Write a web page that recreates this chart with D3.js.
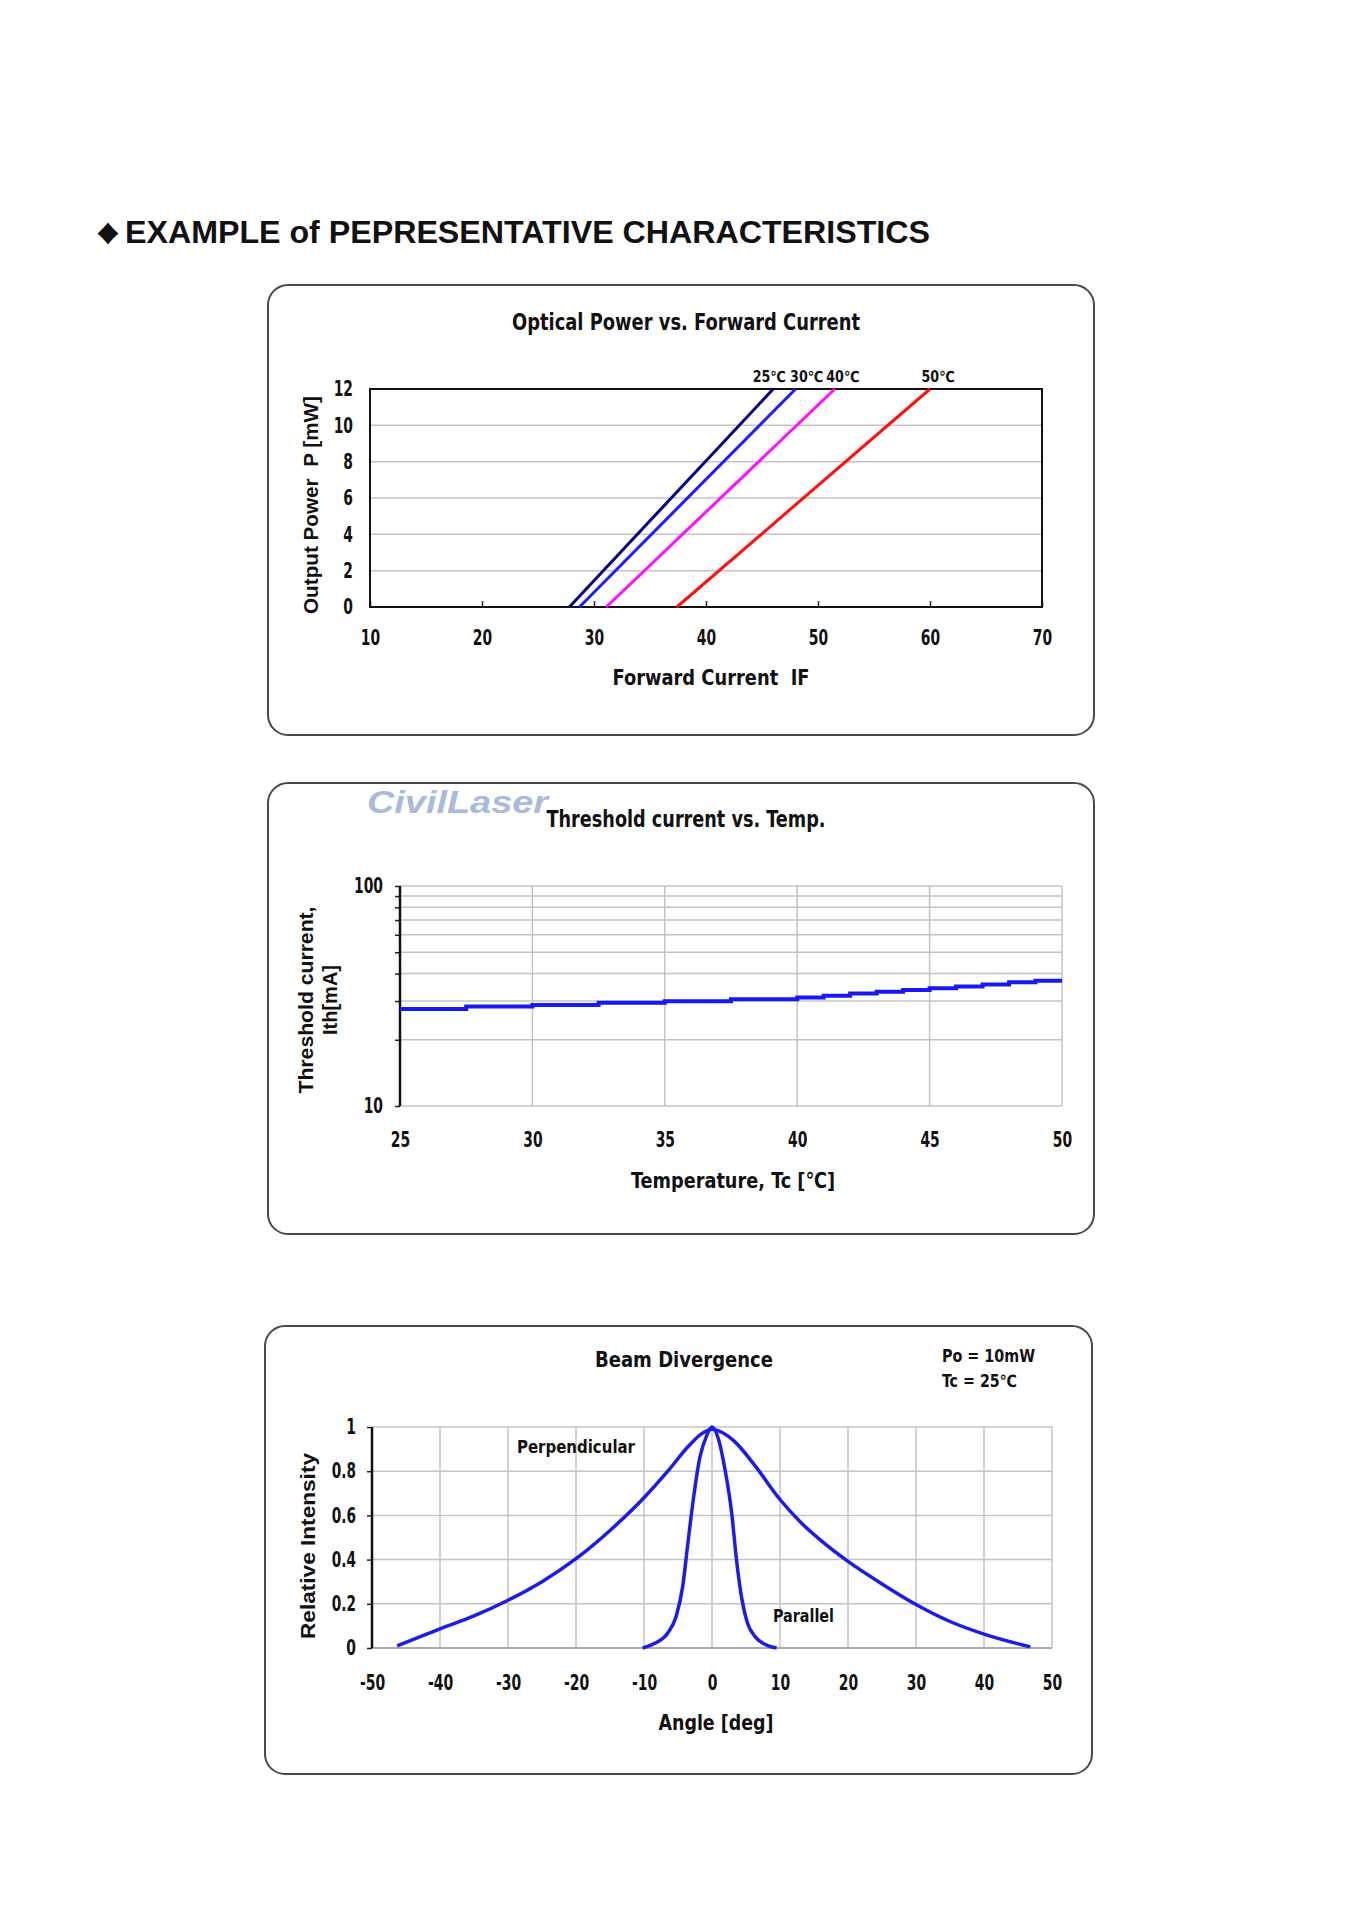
<!DOCTYPE html>
<html>
<head>
<meta charset="utf-8">
<script src="https://cdn.jsdelivr.net/npm/d3@7"></script>
<style>
  body { margin: 0; background: #fff; }
  .narrow { font-family: "Liberation Sans Narrow", "Arial Narrow", "DejaVu Sans Condensed", sans-serif; font-weight: bold; fill: #111; white-space: pre; }
  .wide { font-family: "Liberation Sans", Arial, sans-serif; font-weight: bold; fill: #111; white-space: pre; }
</style>
</head>
<body>
<svg id="page" width="1356" height="1920"></svg>
<script>
// ---- chart 1: optical power vs forward current
var currentTicks = [10, 20, 30, 40, 50, 60, 70];
var powerTicks = [0, 2, 4, 6, 8, 10, 12];
var tempNames = ["25℃", "30℃", "40℃", "50℃"];
var currentAt0mW = [27.8, 28.7, 31.1, 37.4];
var currentAt12mW = [46.0, 48.0, 51.5, 60.0];
var tempColors = ["#000080", "#1c1cff", "#ff10ff", "#ff1010"];
var tempLabelNudge = [-4, 11, 8, 8];

// ---- chart 2: threshold current vs temperature
var tempTicks = [25, 30, 35, 40, 45, 50];
var ithGrid = [10, 20, 30, 40, 50, 60, 70, 80, 90, 100];
var ithLabels = [10, 100];
var caseTemp = [25, 27.5, 30, 32.5, 35, 37.5, 40, 41, 42, 43, 44, 45, 46, 47, 48, 49, 50];
var ithValue = [27.6, 28.3, 28.8, 29.5, 29.9, 30.6, 31.1, 31.7, 32.5, 33.1, 33.7, 34.3, 34.9, 35.7, 36.5, 37.1, 37.1];

// ---- chart 3: beam divergence
var angleTicks = [-50, -40, -30, -20, -10, 0, 10, 20, 30, 40, 50];
var intensityTicks = [0, 0.2, 0.4, 0.6, 0.8, 1];
var perpAngle = [-46.3, -40, -35, -30, -25, -20, -15, -10, -6.5, -3.4, -1.5, 0, 1.5, 3.3, 6.2, 10, 13, 16, 20, 25, 30, 35, 40, 46.8];
var perpValue = [0.01, 0.087, 0.145, 0.216, 0.30, 0.404, 0.532, 0.68, 0.80, 0.915, 0.97, 0.99, 0.975, 0.935, 0.83, 0.672, 0.57, 0.487, 0.392, 0.29, 0.197, 0.12, 0.063, 0.005];
var parAngle = [-10.2, -8.5, -6.5, -5.3, -4.3, -3.6, -2.8, -1.8, -0.8, 0, 0.9, 1.9, 2.9, 3.6, 4.4, 5.2, 6.3, 8.3, 9.5];
var parValue = [0, 0.02, 0.068, 0.14, 0.28, 0.46, 0.66, 0.86, 0.96, 1.0, 0.95, 0.81, 0.61, 0.40, 0.22, 0.114, 0.053, 0.01, 0];

var gridColor = "#c4c4c4";
var svg = d3.select("#page");

// width of a string in a narrow face, so the fallback font is squeezed to fit
function narrowWidth(s, size) {
  var w = 0;
  for (var c of s) w += (c == "." ? 0.23 : c == "-" ? 0.28 : c == "℃" ? 0.8 : 0.46);
  return w * size;
}
function squeeze(sel, size) {
  sel.each(function() {
    d3.select(this)
        .attr("textLength", narrowWidth(this.textContent, size))
        .attr("lengthAdjust", "spacingAndGlyphs");
  });
}

// page heading
svg.append("text").attr("class", "wide")
    .attr("x", 96).attr("y", 244)
    .attr("font-size", 36)
    .attr("textLength", 24).attr("lengthAdjust", "spacingAndGlyphs")
    .text("♦");
svg.append("text").attr("class", "wide")
    .attr("x", 125).attr("y", 243)
    .attr("font-size", 31)
    .attr("textLength", 805).attr("lengthAdjust", "spacingAndGlyphs")
    .text("EXAMPLE of PEPRESENTATIVE CHARACTERISTICS");

function drawBox(x, y, w, h) {
  svg.append("rect")
      .attr("x", x).attr("y", y).attr("width", w).attr("height", h)
      .attr("rx", 20).attr("ry", 20)
      .attr("fill", "none").attr("stroke", "#4a4a4a").attr("stroke-width", 2);
}

function label(cls, x, y, size, txt, len, rotate) {
  var t = svg.append("text").attr("class", cls)
      .attr("font-size", size)
      .attr("text-anchor", "middle")
      .text(txt);
  if (rotate) t.attr("transform", "translate(" + x + "," + y + ") rotate(-90)");
  else t.attr("x", x).attr("y", y);
  if (len) t.attr("textLength", len).attr("lengthAdjust", "spacingAndGlyphs");
  return t;
}

function styleAxis(g, size) {
  g.attr("font-family", null).attr("font-size", null);
  var t = g.selectAll("text").attr("class", "narrow").attr("font-size", size).attr("fill", "#111");
  squeeze(t, size);
  g.selectAll(".domain").remove();
}

// ================= chart 1 =================
drawBox(268, 285, 826, 450);
label("narrow", 686, 330, 23, "Optical Power vs. Forward Current", 348);

var x1 = d3.scaleLinear().domain([10, 70]).range([370, 1042]);
var y1 = d3.scaleLinear().domain([0, 12]).range([607, 389]);

svg.append("g").selectAll("line")
    .data(powerTicks.slice(1, -1)).enter().append("line")
    .attr("x1", x1(10)).attr("x2", x1(70))
    .attr("y1", function(d) { return y1(d); }).attr("y2", function(d) { return y1(d); })
    .attr("stroke", gridColor).attr("stroke-width", 1.5);

var ax1 = svg.append("g").attr("transform", "translate(0," + y1(0) + ")")
    .call(d3.axisBottom(x1).tickValues(currentTicks).tickSize(-6).tickPadding(23));
styleAxis(ax1, 21);
ax1.selectAll("line").attr("stroke", "#222").attr("stroke-width", 1.5);

var ay1 = svg.append("g").attr("transform", "translate(" + x1(10) + ",0)")
    .call(d3.axisLeft(y1).tickValues(powerTicks).tickSize(0).tickPadding(17));
styleAxis(ay1, 21);

svg.append("rect")
    .attr("x", x1(10)).attr("y", y1(12))
    .attr("width", x1(70) - x1(10)).attr("height", y1(0) - y1(12))
    .attr("fill", "none").attr("stroke", "#111").attr("stroke-width", 2);

var tempLine = d3.line().x(function(d) { return x1(d[0]); }).y(function(d) { return y1(d[1]); });
tempNames.forEach(function(name, i) {
  svg.append("path")
      .attr("d", tempLine([[currentAt0mW[i], 0], [currentAt12mW[i], 12]]))
      .attr("fill", "none").attr("stroke", tempColors[i]).attr("stroke-width", 3);
  svg.append("text").attr("class", "narrow")
      .attr("x", x1(currentAt12mW[i]) + tempLabelNudge[i]).attr("y", y1(12) - 7)
      .attr("text-anchor", "middle").attr("font-size", 15)
      .attr("textLength", 33).attr("lengthAdjust", "spacingAndGlyphs")
      .text(name);
});

label("narrow", 711, 685, 22, "Forward Current  IF", 197);
label("wide", 318, 505, 20, "Output Power  P [mW]", 218, true);

// ================= chart 2 =================
drawBox(268, 783, 826, 451);
svg.append("text")
    .attr("x", 367).attr("y", 813)
    .attr("font-family", "'Liberation Sans', Arial, sans-serif")
    .attr("font-weight", "bold").attr("font-style", "italic")
    .attr("font-size", 31).attr("fill", "#a9bbd8")
    .attr("textLength", 181).attr("lengthAdjust", "spacingAndGlyphs")
    .text("CivilLaser");
label("narrow", 686, 827, 23, "Threshold current vs. Temp.", 279);

var x2 = d3.scaleLinear().domain([25, 50]).range([400, 1062]);
var y2 = d3.scaleLog().domain([10, 100]).range([1106, 886]);

svg.append("g").selectAll("line")
    .data(ithGrid).enter().append("line")
    .attr("x1", x2(25)).attr("x2", x2(50))
    .attr("y1", function(d) { return y2(d); }).attr("y2", function(d) { return y2(d); })
    .attr("stroke", gridColor).attr("stroke-width", 1.5);
svg.append("g").selectAll("line")
    .data(tempTicks.slice(1)).enter().append("line")
    .attr("x1", function(d) { return x2(d); }).attr("x2", function(d) { return x2(d); })
    .attr("y1", y2(10)).attr("y2", y2(100))
    .attr("stroke", gridColor).attr("stroke-width", 1.5);

var ax2 = svg.append("g").attr("transform", "translate(0," + y2(10) + ")")
    .call(d3.axisBottom(x2).tickValues(tempTicks).tickSize(0).tickPadding(26));
styleAxis(ax2, 21);

var ay2minor = svg.append("g").attr("transform", "translate(" + x2(25) + ",0)")
    .call(d3.axisLeft(y2).tickValues(ithGrid).tickSize(5).tickFormat(""));
ay2minor.selectAll("line").attr("stroke", "#222").attr("stroke-width", 1.5);
ay2minor.select(".domain").remove();
var ay2 = svg.append("g").attr("transform", "translate(" + x2(25) + ",0)")
    .call(d3.axisLeft(y2).tickValues(ithLabels).tickSize(0).tickPadding(17).tickFormat(d3.format("d")));
styleAxis(ay2, 21);

svg.append("line")
    .attr("x1", x2(25)).attr("x2", x2(25)).attr("y1", y2(10)).attr("y2", y2(100))
    .attr("stroke", "#111").attr("stroke-width", 2.5);

var ithLine = d3.line().curve(d3.curveStepAfter)
    .x(function(d, i) { return x2(caseTemp[i]); })
    .y(function(d) { return y2(d); });
svg.append("path")
    .attr("d", ithLine(ithValue))
    .attr("fill", "none").attr("stroke", "#1818f0").attr("stroke-width", 4);

label("narrow", 733, 1188, 22, "Temperature, Tc [℃]", 204);
label("wide", 313, 1000, 20, "Threshold current,", 187, true);
label("wide", 337, 1000, 20, "Ith[mA]", 70, true);

// ================= chart 3 =================
drawBox(265, 1326, 827, 448);
label("narrow", 684, 1367, 22, "Beam Divergence", 178);
svg.append("text").attr("class", "narrow")
    .attr("x", 942).attr("y", 1362).attr("font-size", 17)
    .attr("textLength", 93).attr("lengthAdjust", "spacingAndGlyphs")
    .text("Po = 10mW");
svg.append("text").attr("class", "narrow")
    .attr("x", 942).attr("y", 1387).attr("font-size", 17)
    .attr("textLength", 75).attr("lengthAdjust", "spacingAndGlyphs")
    .text("Tc = 25℃");

var x3 = d3.scaleLinear().domain([-50, 50]).range([372, 1052]);
var y3 = d3.scaleLinear().domain([0, 1]).range([1648, 1427]);

svg.append("g").selectAll("line")
    .data(intensityTicks.slice(1)).enter().append("line")
    .attr("x1", x3(-50)).attr("x2", x3(50))
    .attr("y1", function(d) { return y3(d); }).attr("y2", function(d) { return y3(d); })
    .attr("stroke", gridColor).attr("stroke-width", 1.5);
svg.append("g").selectAll("line")
    .data(angleTicks.slice(1)).enter().append("line")
    .attr("x1", function(d) { return x3(d); }).attr("x2", function(d) { return x3(d); })
    .attr("y1", y3(0)).attr("y2", y3(1))
    .attr("stroke", gridColor).attr("stroke-width", 1.5);
svg.append("line")
    .attr("x1", x3(-50)).attr("x2", x3(50)).attr("y1", y3(0)).attr("y2", y3(0))
    .attr("stroke", "#aaa").attr("stroke-width", 2);

var ax3 = svg.append("g").attr("transform", "translate(0," + y3(0) + ")")
    .call(d3.axisBottom(x3).tickValues(angleTicks).tickSize(0).tickPadding(27)
      .tickFormat(function(d) { return String(d); }));
styleAxis(ax3, 21);

var ay3 = svg.append("g").attr("transform", "translate(" + x3(-50) + ",0)")
    .call(d3.axisLeft(y3).tickValues(intensityTicks).tickSize(5).tickPadding(11)
      .tickFormat(function(d) { return String(d); }));
styleAxis(ay3, 21);
ay3.selectAll("line").attr("stroke", "#222").attr("stroke-width", 1.5);
svg.append("line")
    .attr("x1", x3(-50)).attr("x2", x3(-50)).attr("y1", y3(0)).attr("y2", y3(1))
    .attr("stroke", "#111").attr("stroke-width", 2.5);

var beamLine = d3.line().curve(d3.curveMonotoneX)
    .x(function(d) { return x3(d[0]); })
    .y(function(d) { return y3(d[1]); });
svg.append("path")
    .attr("d", beamLine(d3.zip(perpAngle, perpValue)))
    .attr("fill", "none").attr("stroke", "#1c1ce6").attr("stroke-width", 3.5);
svg.append("path")
    .attr("d", beamLine(d3.zip(parAngle, parValue)))
    .attr("fill", "none").attr("stroke", "#1c1ce6").attr("stroke-width", 3.5);

svg.append("text").attr("class", "narrow")
    .attr("x", 517).attr("y", 1453).attr("font-size", 18)
    .attr("textLength", 118).attr("lengthAdjust", "spacingAndGlyphs")
    .text("Perpendicular");
svg.append("text").attr("class", "narrow")
    .attr("x", 773).attr("y", 1622).attr("font-size", 18)
    .attr("textLength", 61).attr("lengthAdjust", "spacingAndGlyphs")
    .text("Parallel");

label("narrow", 716, 1730, 22, "Angle [deg]", 115);
label("wide", 315, 1546, 21, "Relative Intensity", 186, true);
</script>
</body>
</html>
